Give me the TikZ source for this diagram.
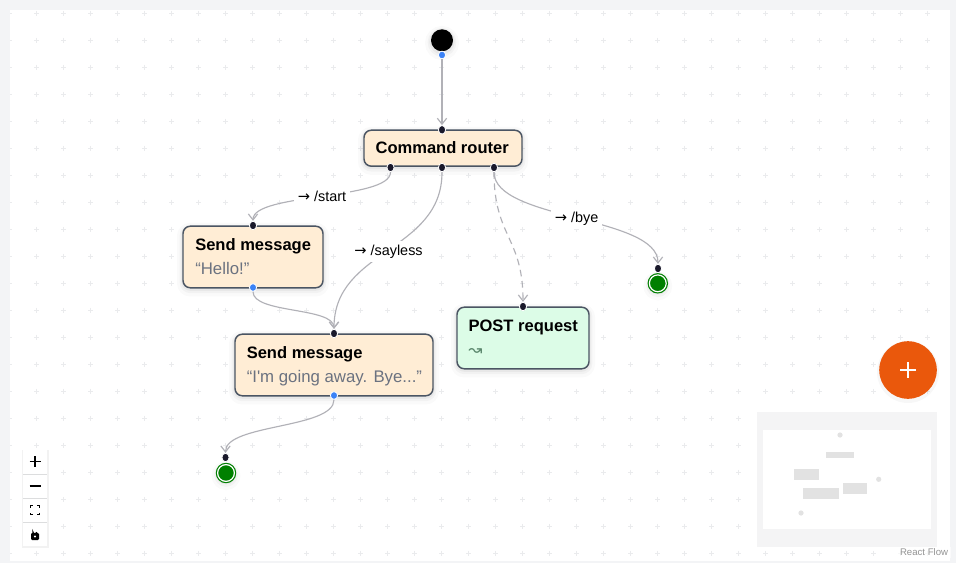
\documentclass[tikz,border=0pt]{standalone}
\usepackage{fontspec}
\setmainfont{Liberation Sans}
\newfontfamily\plainsans{Liberation Sans}
\newfontfamily\dejavu{DejaVu Sans}
\usetikzlibrary{arrows.meta,calc,shapes.geometric}
\newcommand{\arrowglyph}{{\dejavu\fontsize{11}{12}\selectfont →}}
\definecolor{pagebg}{HTML}{F3F4F6}
\definecolor{dotc}{HTML}{EAEBED}
\definecolor{edgec}{HTML}{B1B1B7}
\definecolor{borderc}{HTML}{4B5563}
\definecolor{orangebox}{HTML}{FFEDD5}
\definecolor{greenbox}{HTML}{DCFCE7}
\definecolor{subtext}{HTML}{6B7280}
\definecolor{handledark}{HTML}{1A192B}
\definecolor{handleblue}{HTML}{3B82F6}
\definecolor{endgreen}{HTML}{008000}
\definecolor{fabc}{HTML}{EA580C}
\definecolor{minibg}{HTML}{F4F4F5}
\definecolor{miniitem}{HTML}{E2E2E2}
\tikzset{
  softshadow/.style={
    preaction={draw=black,draw opacity=.02,line width=9pt,transform canvas={yshift=-2pt}},
    preaction={draw=black,draw opacity=.03,line width=5pt,transform canvas={yshift=-1.5pt}},
    preaction={draw=black,draw opacity=.04,line width=2.5pt,transform canvas={yshift=-1pt}}},
  statebox/.style={rectangle,rounded corners=5.5pt,draw=borderc,line width=1.1pt,inner sep=0pt,softshadow},
  orangefill/.style={statebox,fill=orangebox},
  greenfill/.style={statebox,fill=greenbox},
  titletext/.style={anchor=base west,inner sep=0pt,font=\fontsize{12.4}{15}\selectfont\bfseries,text=black},
  subtitletext/.style={anchor=base west,inner sep=0pt,font=\plainsans\fontsize{12.6}{15}\selectfont,text=subtext},
  hdark/.style={ellipse,fill=handledark,draw=white,line width=.6pt,minimum width=5.4pt,minimum height=6.4pt,inner sep=0pt},
  hblue/.style={ellipse,fill=handleblue,draw=white,line width=.6pt,minimum width=5.4pt,minimum height=5.8pt,inner sep=0pt},
  endstate/.style={circle,fill=endgreen,draw=endgreen,double=white,double distance=.9pt,line width=.9pt,minimum size=12.6pt,inner sep=0pt,softshadow},
  edgeline/.style={draw=edgec,line width=.85pt,-{Straight Barb[length=4.5pt,width=7pt]}},
  edgelabel/.style={fill=white,inner xsep=3pt,inner ysep=3pt,font=\fontsize{10.8}{12}\selectfont,text=black},
  ctrl/.style={draw=black,line width=1.1pt,line cap=butt},
  miniblock/.style={fill=miniitem,draw=none},
}
\begin{document}
\begin{tikzpicture}[x=.75pt,y=-.75pt]
\useasboundingbox (0,0) rectangle (956,563);
\fill[pagebg] (0,0) rectangle (956,563);
\fill[white] (10,10) rectangle (950,561);
% dot grid
\begin{scope}
\clip (10,10) rectangle (950,561);
\foreach \gx in {0,...,34}{
  \foreach \gy in {0,...,20}{
    \draw[dotc,line width=.8pt] ({9.7+27*\gx-2.7},{13.5+27*\gy}) -- ++(5.4,0)
      ({9.7+27*\gx},{13.5+27*\gy-2.7}) -- ++(0,5.4);
  }
}
\end{scope}
% nodes
\node[circle,fill=black,minimum size=16.5pt,inner sep=0pt,softshadow] (start) at (442,40.3) {};
\node[orangefill,minimum width=118.5pt,minimum height=27pt] (router) at (443,148.2) {};
\node[titletext] (routerT) at (375.3,154) {Command router};
\node[orangefill,minimum width=105pt,minimum height=46.2pt] (hello) at (253,257) {};
\node[titletext] (helloT) at (195,250) {Send message};
\node[subtitletext] (helloS) at (195,274) {“Hello!”};
\node[orangefill,minimum width=148.5pt,minimum height=46.2pt] (bye) at (334,365) {};
\node[titletext] (byeT) at (246.5,358) {Send message};
\node[subtitletext] (byeS) at (246.5,382) {“I'm going away. Bye...”};
\node[greenfill,minimum width=99pt,minimum height=46.2pt] (post) at (523,338) {};
\node[titletext] (postT) at (468.3,331) {POST request};
\node[subtitletext,text=subtext!85!green] (postS) at (468,355) {\dejavu ↝};
\node[endstate] (endA) at (657.8,283.3) {};
\node[endstate] (endB) at (226,473) {};
% handles
\node[hblue] (hStart) at (442,55) {};
\node[hdark] (hRouterIn) at (442,129.8) {};
\node[hdark] (hRouterL) at (390.5,167.5) {};
\node[hdark] (hRouterM) at (442,167.5) {};
\node[hdark] (hRouterR) at (494,167.5) {};
\node[hdark] (hHelloIn) at (253,225.5) {};
\node[hblue] (hHelloOut) at (253,287.5) {};
\node[hdark] (hByeIn) at (334,333.5) {};
\node[hblue] (hByeOut) at (334,395.5) {};
\node[hdark] (hPostIn) at (523,306.5) {};
\node[hdark] (hEndA) at (658,268.5) {};
\node[hdark] (hEndB) at (225.5,457.5) {};
% connectors
\draw[edgeline] (hStart.south) -- (hRouterIn.north);
\draw[edgeline] (hRouterL.south) .. controls ($(hRouterL.south)+(0,28)$) and ($(hHelloIn.north)-(0,28)$) .. (hHelloIn.north);
\draw[edgeline] (hRouterM.south) .. controls ($(hRouterM.south)+(0,80)$) and ($(hByeIn.north)-(0,80)$) .. (hByeIn.north);
\draw[edgeline,dashed,dash pattern=on 5pt off 3.5pt] (hRouterR.south) .. controls ($(hRouterR.south)+(0,65)$) and ($(hPostIn.north)-(0,65)$) .. (hPostIn.north);
\draw[edgeline] (hRouterR.south) .. controls ($(hRouterR.south)+(0,48)$) and ($(hEndA.north)-(0,48)$) .. (hEndA.north);
\draw[edgeline] (hHelloOut.south) .. controls ($(hHelloOut.south)+(0,22)$) and ($(hByeIn.north)-(0,22)$) .. (hByeIn.north);
\draw[edgeline] (hByeOut.south) .. controls ($(hByeOut.south)+(0,29)$) and ($(hEndB.north)-(0,29)$) .. (hEndB.north);
% edge labels
\node[edgelabel] (lStart) at (322,196.5) {\arrowglyph{} /start};
\node[edgelabel] (lSayless) at (388.5,251.5) {\arrowglyph{} /sayless};
\node[edgelabel] (lBye) at (576.5,218.5) {\arrowglyph{} /bye};
% zoom controls
\fill[black,opacity=.05] (21.5,449.5) rectangle (48.5,547.5);
\fill[white] (23,450) rectangle (47,546);
\foreach \sy in {474,498,522}{\draw[pagebg!80!gray,line width=.6pt] (23,\sy) -- (47,\sy);}
\draw[ctrl] (29.5,461.7) -- (40.5,461.7) (35,456.2) -- (35,467.2);
\draw[ctrl] (29.5,486) -- (40.5,486);
\draw[black,line width=.8pt] (30.5,507.5) -- (30.5,505.5) -- (33,505.5) (37,505.5) -- (39.5,505.5) -- (39.5,507.5)
  (39.5,512.5) -- (39.5,514.5) -- (37,514.5) (33,514.5) -- (30.5,514.5) -- (30.5,512.5);
\fill[black,rounded corners=.8pt] (31,533) rectangle (39,540);
\draw[black,line width=.8pt] (32.8,533) -- (32.8,531.5) arc[start angle=180,end angle=20,radius=2.2];
\fill[white] (35,536.5) circle[radius=1.2];
% add button
\fill[black,opacity=.03] (908,372) circle[radius=31];
\node[circle,fill=fabc,minimum size=43.2pt,inner sep=0pt] (fab) at (908,370) {};
\draw[white,line width=2.2pt] ($(fab.center)+(-8,0)$) -- ($(fab.center)+(8,0)$)
  ($(fab.center)+(0,-8)$) -- ($(fab.center)+(0,8)$);
% minimap
\fill[minibg] (757,412) rectangle (937,547);
\fill[white] (763,430) rectangle (931,529);
\fill[miniblock] (840,435) circle[radius=2.6];
\fill[miniblock] (826,452) rectangle (854,458);
\fill[miniblock] (794,469) rectangle (819,480);
\fill[miniblock] (803,488) rectangle (839,499);
\fill[miniblock] (843,483) rectangle (867,494);
\fill[miniblock] (878.7,479.3) circle[radius=2.6];
\fill[miniblock] (801,513) circle[radius=2.6];
% attribution
\node[fill=white,fill opacity=.6,text opacity=1,inner xsep=2pt,inner ysep=1.5pt,anchor=south east,font=\fontsize{7.2}{9}\selectfont,text=gray!85] (attr) at (951,558) {React Flow};
\end{tikzpicture}
\end{document}
